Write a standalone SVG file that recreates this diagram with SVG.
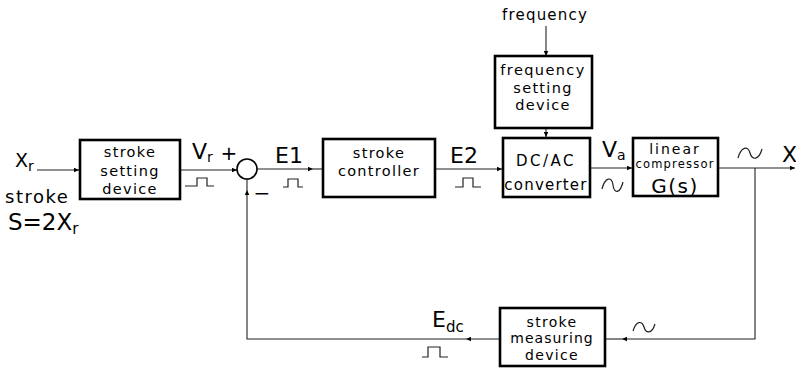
<svg xmlns="http://www.w3.org/2000/svg" width="796" height="370" viewBox="0 0 796 370">
<style>
.box{fill:#fff;stroke:#000;stroke-width:2.6}
.ln{fill:none;stroke:#222;stroke-width:1.1}
.sig{fill:none;stroke:#222;stroke-width:1.2}
text{font-family:"DejaVu Sans",sans-serif;fill:#000}
.t{font-size:14.5px;text-anchor:middle;letter-spacing:1.3px}
.lab{font-size:22px}
.sub{font-size:14px}
</style>
<defs>
<marker id="arr" viewBox="0 0 10 10" refX="10" refY="5" markerWidth="9" markerHeight="5" markerUnits="userSpaceOnUse" orient="auto">
<path d="M0,0.5 L10,5 L0,9.5 z" fill="#000"/>
</marker>
</defs>
<g id="connectors">
<path class="ln" d="M37,170 H79" marker-end="url(#arr)"/>
<path class="ln" d="M180,170 H237" marker-end="url(#arr)"/>
<path class="ln" d="M257,169 H313" marker-end="url(#arr)"/>
<path class="ln" d="M313,169 H323"/>
<path class="ln" d="M435,169 H502" marker-end="url(#arr)"/>
<path class="ln" d="M590,168 H632" marker-end="url(#arr)"/>
<path class="ln" d="M718,168 H795" marker-end="url(#arr)"/>
<path class="ln" d="M546,26 V56" marker-end="url(#arr)"/>
<path class="ln" d="M546,128 V137" marker-end="url(#arr)"/>
<path class="ln" d="M755,168 V339 H622" marker-end="url(#arr)"/>
<path class="ln" d="M622,339 H605"/>
<path class="ln" d="M500,339 H466" marker-end="url(#arr)"/>
<path class="ln" d="M466,339 H247 V190" marker-end="url(#arr)"/>
<path class="ln" d="M247,190 V179"/>
</g>
<g id="signals">
<polyline class="sig" points="185,186 197,186 197,178 207,178 207,186 214,186"/>
<polyline class="sig" points="283,187 288,187 288,179 298,179 298,187 303,187"/>
<polyline class="sig" points="455,187 463,187 463,178 473,178 473,187 481,187"/>
<polyline class="sig" points="422,357 428,357 428,347 440,347 440,357 448,357"/>
<path class="sig" d="M602,189 C605,177 612,176 613,185 C614,194 620,194 623,182"/>
<path class="sig" d="M738,158 C741,147 748,145 750,153 C752,161 759,160 762,149"/>
<path class="sig" d="M633,331 C636,321 642,320 644,327 C646,334 652,334 655,324"/>
</g>
<g id="sum">
<circle cx="247" cy="169" r="10" fill="#fff" stroke="#000" stroke-width="1.6"/>
<text x="229" y="160" font-size="20" text-anchor="middle">+</text>
<text x="262" y="200" font-size="20" text-anchor="middle">−</text>
</g>
<g id="stroke-setting">
<rect class="box" x="80" y="140" width="100" height="59"/>
<text class="t" x="130" y="157">stroke</text>
<text class="t" x="130" y="176">setting</text>
<text class="t" x="130" y="194">device</text>
</g>
<g id="stroke-controller">
<rect class="box" x="323" y="139" width="112" height="58"/>
<text class="t" x="379" y="158">stroke</text>
<text class="t" x="379" y="176">controller</text>
</g>
<g id="frequency-setting">
<rect class="box" x="495" y="56" width="97" height="72"/>
<text class="t" x="543" y="75" style="letter-spacing:1.4px">frequency</text>
<text class="t" x="543" y="93">setting</text>
<text class="t" x="543" y="110">device</text>
</g>
<g id="dcac">
<rect class="box" x="503" y="138" width="87" height="59"/>
<text class="t" x="546" y="166" style="font-size:15px;letter-spacing:2.5px">DC/AC</text>
<text class="t" x="546" y="190" style="font-size:15px;letter-spacing:1.2px">converter</text>
</g>
<g id="compressor">
<rect class="box" x="633" y="138" width="85" height="58"/>
<text class="t" x="675" y="154" style="font-size:14px;letter-spacing:2px">linear</text>
<text class="t" x="675" y="168" style="font-size:11.5px;letter-spacing:1.2px">compressor</text>
<text class="t" x="675" y="193" style="font-size:20px;letter-spacing:1.5px">G(s)</text>
</g>
<g id="stroke-measuring">
<rect class="box" x="500" y="308" width="105" height="58"/>
<text class="t" x="552" y="327" style="font-size:14px">stroke</text>
<text class="t" x="552" y="343" style="font-size:14px;letter-spacing:1px">measuring</text>
<text class="t" x="552" y="360" style="font-size:14px">device</text>
</g>
<g id="labels">
<text x="15" y="167" font-size="19">X<tspan class="sub" dy="4">r</tspan></text>
<text x="5" y="203" font-size="18" letter-spacing="1.5">stroke</text>
<text x="8" y="230" font-size="23">S=2X<tspan font-size="15" dy="4">r</tspan></text>
<text class="lab" x="192" y="159">V<tspan class="sub" dy="3">r</tspan></text>
<text class="lab" x="275" y="163" font-size="23">E1</text>
<text class="lab" x="450" y="163" font-size="23">E2</text>
<text class="lab" x="602" y="157" font-size="20">V<tspan class="sub" dy="3">a</tspan></text>
<text class="lab" x="782" y="162">X</text>
<text class="lab" x="432" y="327">E<tspan font-size="15" dy="5">dc</tspan></text>
<text class="t" x="545" y="20" style="font-size:15px;letter-spacing:1.2px">frequency</text>
</g>
</svg>
